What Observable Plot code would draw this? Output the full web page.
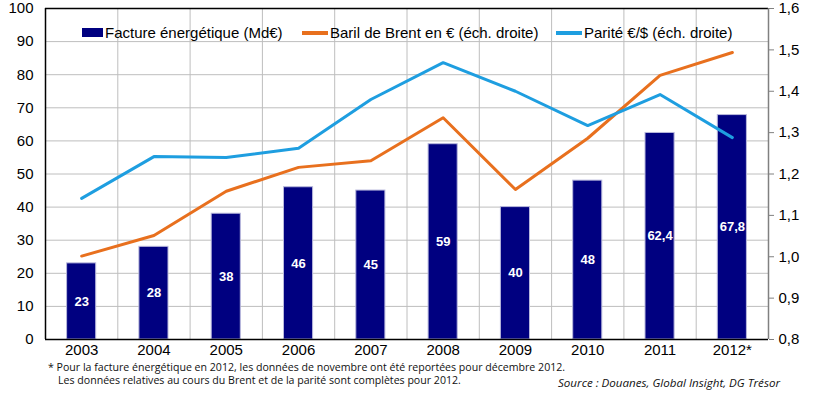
<!DOCTYPE html>
<html>
<head>
<meta charset="utf-8">
<script src="https://cdn.jsdelivr.net/npm/d3@7"></script>
<script src="https://cdn.jsdelivr.net/npm/@observablehq/plot@0.6"></script>
<style>
  body { margin: 0; background: #fff; }
  #wrap { position: relative; width: 815px; height: 396px; font-family: "Liberation Sans", Arial, sans-serif; }
  .leg { position: absolute; top: 24px; font-size: 15px; color: #000; white-space: nowrap; display: flex; align-items: center; }
  .sw { display: inline-block; margin-right: 2px; }
  .note { position: absolute; font-size: 10.6px; color: #111; white-space: nowrap; font-family: "Open Sans", sans-serif; }
</style>
</head>
<body>
<div id="wrap"></div>
<script>
const years = ["2003","2004","2005","2006","2007","2008","2009","2010","2011","2012*"];
const facture = [23, 28, 38, 46, 45, 59, 40, 48, 62.4, 67.8];
const factureLabels = ["23","28","38","46","45","59","40","48","62,4","67,8"];
const brent = [25.2, 31.4, 44.8, 52.0, 54.0, 67.0, 45.3, 60.8, 79.8, 86.7];
const parite = [1.141, 1.242, 1.240, 1.262, 1.380, 1.469, 1.400, 1.317, 1.392, 1.288];
const leftTicks = [0,10,20,30,40,50,60,70,80,90,100];
const rightTicks = [0.8,0.9,1.0,1.1,1.2,1.3,1.4,1.5,1.6];

const NAVY = "#000080", ORANGE = "#E8701E", BLUE = "#1E9EE0", GRID = "#BEBEBE";

// map right scale (0.8–1.6) onto left scale (0–100)
const toLeft = p => (p - 0.8) / 0.8 * 100;

const data = years.map((y, i) => ({
  i, year: y, facture: facture[i], label: factureLabels[i],
  brent: brent[i], parite: parite[i], pariteL: toLeft(parite[i])
}));

const chart = Plot.plot({
  width: 815,
  height: 360,
  marginTop: 8,
  marginBottom: 21,
  marginLeft: 45,
  marginRight: 47,
  style: { fontFamily: "Liberation Sans, Arial, sans-serif", fontSize: "15px", color: "#000", background: "#fff" },
  x: { type: "linear", domain: [0, years.length], axis: null },
  y: { domain: [0, 100], axis: null },
  marks: [
    Plot.ruleY(leftTicks.slice(1, -1), { stroke: GRID, strokeWidth: 1 }),
    Plot.ruleX(d3.range(1, years.length), { stroke: GRID, strokeWidth: 1 }),
    Plot.rectY(data, { x1: d => d.i, x2: d => d.i + 1, y: "facture", fill: NAVY, stroke: "#B8B8DC", strokeWidth: 1, insetLeft: 21.6, insetRight: 21.6 }),
    Plot.line(data, { x: d => d.i + 0.5, y: "brent", stroke: ORANGE, strokeWidth: 3 }),
    Plot.line(data, { x: d => d.i + 0.5, y: "pariteL", stroke: BLUE, strokeWidth: 3 }),
    Plot.text(data, { x: d => d.i + 0.5, y: d => d.facture / 2, text: "label", fill: "#fff", fontWeight: "bold", fontSize: 13 }),
    Plot.ruleY([0, 100], { stroke: "#000", strokeWidth: 1.5 }),
    Plot.ruleX([0], { stroke: "#000", strokeWidth: 1.5 }),
    Plot.ruleX([years.length], { stroke: "#808080", strokeWidth: 1.5 }),
    Plot.axisY(leftTicks, { anchor: "left", tickSize: 0, tickPadding: 12, fontSize: 15, tickFormat: d => String(d) }),
    Plot.axisY(rightTicks.map(toLeft), { anchor: "right", tickSize: 5, tickPadding: 5, stroke: "#808080", fontSize: 15, tickFormat: d => (0.8 + d * 0.008).toFixed(1).replace(".", ",") }),
    Plot.axisX(data.map(d => d.i + 0.5), { anchor: "bottom", tickSize: 0, tickPadding: 5, fontSize: 15, tickFormat: v => years[Math.round(v - 0.5)] })
  ]
});

const wrap = document.getElementById("wrap");
wrap.appendChild(chart);

const legend = [
  { left: 82, sw: `<span class="sw" style="width:21px;height:9px;background:${NAVY}"></span>`, text: "Facture énergétique (Md€)" },
  { left: 302, sw: `<span class="sw" style="width:26px;height:4px;background:${ORANGE}"></span>`, text: "Baril de Brent en € (éch. droite)" },
  { left: 556, sw: `<span class="sw" style="width:26px;height:4px;background:${BLUE}"></span>`, text: "Parité €/$ (éch. droite)" }
];
for (const l of legend) {
  const d = document.createElement("div");
  d.className = "leg";
  d.style.left = l.left + "px";
  d.innerHTML = l.sw + "<span>" + l.text + "</span>";
  wrap.appendChild(d);
}

const notes = [
  { left: 48, top: 360, text: "* Pour la facture énergétique  en 2012, les données de novembre ont été reportées pour décembre 2012.", style: "" },
  { left: 58, top: 373, text: "Les données relatives au cours du Brent et de la parité sont complètes pour 2012.", style: "" },
  { right: 35, top: 375, text: "Source : Douanes, Global Insight, DG Trésor", style: "font-style:italic;font-size:11.6px;" }
];
for (const n of notes) {
  const d = document.createElement("div");
  d.className = "note";
  d.textContent = n.text;
  d.style.cssText += n.style;
  d.style.top = n.top + "px";
  if (n.left != null) d.style.left = n.left + "px";
  else d.style.right = n.right + "px";
  wrap.appendChild(d);
}
</script>
</body>
</html>
